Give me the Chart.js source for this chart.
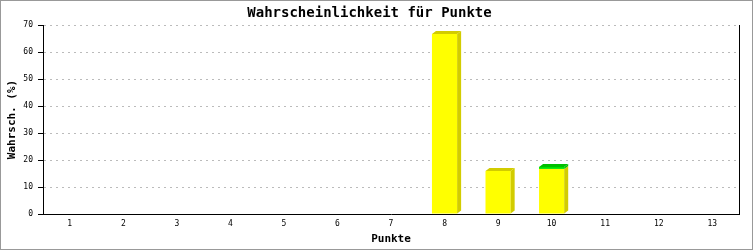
<!DOCTYPE html>
<html>
<head>
<meta charset="utf-8">
<script src="https://cdn.jsdelivr.net/npm/chart.js@4"></script>
<style>
    html, body { margin: 0; padding: 0; background: #fff; }
</style>
</head>
<body>
<canvas id="punkteChart" width="753" height="250"></canvas>
<script>
// data
const categories = ['1', '2', '3', '4', '5', '6', '7', '8', '9', '10', '11', '12', '13'];
const yellowValues = [0, 0, 0, 0, 0, 0, 0, 66.7, 15.9, 16.7, 0, 0, 0];
const greenValues = [0, 0, 0, 0, 0, 0, 0, 0, 0, 0.75, 0, 0, 0];
const yTicks = [0, 10, 20, 30, 40, 50, 60, 70];

// draws the little 3D side and top faces of each bar
const depthPlugin = {
    id: 'depth',
    afterDatasetsDraw(chart) {
        const ctx = chart.ctx;
        const dx = 4, dy = 3;
        chart.data.datasets.forEach((ds, di) => {
            const meta = chart.getDatasetMeta(di);
            meta.data.forEach((bar, i) => {
                if (!ds.data[i]) return;
                const p = bar.getProps(['x', 'y', 'base', 'width'], true);
                const l = p.x - p.width / 2, r = p.x + p.width / 2;
                const top = Math.min(p.y, p.base), bottom = Math.max(p.y, p.base);
                ctx.save();
                ctx.fillStyle = ds.depthColor;
                ctx.beginPath();
                ctx.moveTo(r, bottom);
                ctx.lineTo(r, top);
                ctx.lineTo(r + dx, top - dy);
                ctx.lineTo(r + dx, bottom - dy);
                ctx.closePath();
                ctx.fill();
                const isTop = chart.data.datasets.slice(di + 1).every(d => !d.data[i]);
                if (isTop) {
                    ctx.beginPath();
                    ctx.moveTo(l, top);
                    ctx.lineTo(l + dx, top - dy);
                    ctx.lineTo(r + dx, top - dy);
                    ctx.lineTo(r, top);
                    ctx.closePath();
                    ctx.fill();
                }
                ctx.restore();
            });
        });
    }
};

// right edge of the plot and the grey outer frame
const framePlugin = {
    id: 'frame',
    afterDraw(chart) {
        const {ctx, chartArea} = chart;
        ctx.save();
        ctx.strokeStyle = '#000';
        ctx.lineWidth = 1;
        ctx.beginPath();
        ctx.moveTo(Math.round(chartArea.right) + 0.5, chartArea.top);
        ctx.lineTo(Math.round(chartArea.right) + 0.5, chartArea.bottom);
        ctx.stroke();
        ctx.strokeStyle = '#999';
        ctx.strokeRect(0.5, 0.5, chart.width - 1, chart.height - 1);
        ctx.restore();
    }
};

const monoFont = '"DejaVu Sans Mono", monospace';

new Chart(document.getElementById('punkteChart'), {
    type: 'bar',
    data: {
        labels: categories,
        datasets: [{
            label: 'Wahrscheinlichkeit',
            data: yellowValues,
            backgroundColor: '#ffff00',
            depthColor: '#d2cc00',
            barPercentage: 0.47,
            categoryPercentage: 1
        }, {
            label: 'Rest',
            data: greenValues,
            backgroundColor: '#00e400',
            depthColor: '#00c000',
            barPercentage: 0.47,
            categoryPercentage: 1
        }]
    },
    options: {
        responsive: false,
        animation: false,
        layout: { padding: { left: 0, right: 14, top: 0, bottom: 0 } },
        plugins: {
            legend: { display: false },
            tooltip: { enabled: false },
            title: {
                display: true,
                text: 'Wahrscheinlichkeit für Punkte',
                color: '#000',
                font: { family: monoFont, size: 14, weight: 'bold' },
                padding: { top: 5, bottom: 3.2 }
            }
        },
        scales: {
            x: {
                stacked: true,
                grid: { display: false, drawTicks: false, tickLength: 0 },
                border: { color: '#000', width: 1 },
                ticks: { color: '#000', font: { family: monoFont, size: 8 }, padding: 5 },
                title: {
                    display: true,
                    text: 'Punkte',
                    color: '#000',
                    font: { family: monoFont, size: 11, weight: 'bold' },
                    padding: { top: 0, bottom: 4.4 }
                },
                afterFit: s => { s.height = 36; }
            },
            y: {
                stacked: true,
                min: 0,
                max: 70,
                afterBuildTicks: s => { s.ticks = yTicks.map(v => ({ value: v })); },
                grid: {
                    color: c => (c.tick && c.tick.value === 0) ? 'rgba(0,0,0,0)' : '#bbbbbb',
                    tickColor: '#000',
                    tickLength: 5,
                    tickBorderDash: []
                },
                border: { color: '#000', width: 1, dash: [2, 4] },
                ticks: { color: '#000', font: { family: monoFont, size: 8 }, padding: 5 },
                title: {
                    display: true,
                    text: 'Wahrsch. (%)',
                    color: '#000',
                    font: { family: monoFont, size: 11, weight: 'bold' },
                    padding: { top: 6, bottom: 0 }
                },
                afterFit: s => { s.width = 43; }
            }
        }
    },
    plugins: [depthPlugin, framePlugin]
});
</script>
</body>
</html>
